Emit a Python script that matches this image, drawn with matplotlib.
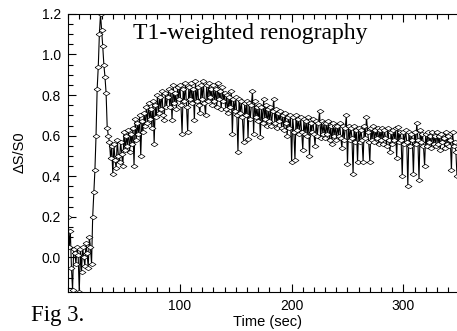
import numpy as np
import matplotlib
matplotlib.use("Agg")
import matplotlib.pyplot as plt
from matplotlib.ticker import MultipleLocator, FormatStrFormatter

# signal change dS/S0, one sample per second starting at t=0
ds_s0 = [
    0.20, 0.05, 0.13, -0.05, -0.16, 0.04, 0.02, -0.03, 0.05, 0.01,
    -0.17, 0.04, -0.07, 0.05, 0.00, -0.04, 0.07, 0.02, -0.05, 0.10,
    0.05, -0.03, 0.20, 0.32, 0.43, 0.60, 0.83, 0.94, 1.10, 1.20,
    1.12, 1.04, 0.95, 0.89, 0.81, 0.64, 0.60, 0.57, 0.49, 0.55,
    0.41, 0.56, 0.48, 0.44, 0.58, 0.50, 0.47, 0.57, 0.51, 0.45,
    0.62, 0.53, 0.60, 0.55, 0.63, 0.52, 0.61, 0.56, 0.64, 0.45,
    0.68, 0.58, 0.66, 0.61, 0.70, 0.50, 0.67, 0.62, 0.71, 0.65,
    0.74, 0.66, 0.76, 0.68, 0.73, 0.64, 0.77, 0.56, 0.75, 0.69,
    0.80, 0.71, 0.79, 0.73, 0.82, 0.70, 0.675, 0.81, 0.74, 0.79,
    0.83, 0.74, 0.82, 0.675, 0.85, 0.76, 0.81, 0.73, 0.84, 0.78,
    0.85, 0.75, 0.61, 0.83, 0.77, 0.86, 0.74, 0.62, 0.84, 0.78,
    0.86, 0.76, 0.83, 0.675, 0.87, 0.77, 0.84, 0.75, 0.71, 0.85,
    0.78, 0.87, 0.76, 0.70, 0.85, 0.77, 0.86, 0.79, 0.83, 0.75,
    0.85, 0.77, 0.83, 0.74, 0.86, 0.78, 0.82, 0.73, 0.84, 0.77,
    0.81, 0.73, 0.80, 0.71, 0.79, 0.74, 0.82, 0.61, 0.78, 0.72,
    0.79, 0.70, 0.52, 0.78, 0.71, 0.77, 0.69, 0.57, 0.76, 0.70,
    0.77, 0.585, 0.76, 0.68, 0.75, 0.82, 0.61, 0.77, 0.69, 0.74,
    0.67, 0.75, 0.595, 0.74, 0.66, 0.78, 0.68, 0.75, 0.65, 0.73,
    0.67, 0.74, 0.65, 0.72, 0.78, 0.66, 0.73, 0.64, 0.71, 0.67,
    0.72, 0.64, 0.70, 0.63, 0.71, 0.66, 0.60, 0.69, 0.64, 0.70,
    0.47, 0.69, 0.62, 0.48, 0.70, 0.63, 0.68, 0.61, 0.69, 0.62,
    0.53, 0.68, 0.61, 0.67, 0.60, 0.69, 0.50, 0.66, 0.62, 0.68,
    0.61, 0.55, 0.67, 0.60, 0.66, 0.72, 0.59, 0.67, 0.61, 0.66,
    0.59, 0.66, 0.61, 0.67, 0.58, 0.65, 0.56, 0.66, 0.60, 0.65,
    0.58, 0.65, 0.60, 0.66, 0.59, 0.54, 0.65, 0.58, 0.64, 0.70,
    0.46, 0.65, 0.58, 0.64, 0.59, 0.41, 0.65, 0.57, 0.63, 0.47,
    0.64, 0.57, 0.63, 0.58, 0.47, 0.65, 0.59, 0.69, 0.62, 0.57,
    0.47, 0.64, 0.58, 0.65, 0.57, 0.63, 0.59, 0.64, 0.56, 0.63,
    0.58, 0.64, 0.56, 0.63, 0.59, 0.55, 0.64, 0.58, 0.52, 0.62,
    0.56, 0.63, 0.58, 0.64, 0.49, 0.645, 0.57, 0.62, 0.58, 0.40,
    0.62, 0.56, 0.63, 0.57, 0.35, 0.62, 0.55, 0.61, 0.58, 0.41,
    0.62, 0.56, 0.66, 0.58, 0.38, 0.63, 0.57, 0.61, 0.55, 0.45,
    0.61, 0.55, 0.62, 0.57, 0.60, 0.54, 0.62, 0.56, 0.60, 0.55,
    0.62, 0.56, 0.60, 0.53, 0.61, 0.57, 0.59, 0.54, 0.62, 0.56,
    0.60, 0.55, 0.58, 0.43, 0.62, 0.55, 0.57, 0.52, 0.40,
]
time_sec = np.arange(len(ds_s0))  # 1 s sampling

title_txt = "T1-weighted renography"
fig_txt = "Fig 3."

sans = "Liberation Sans"
serif = "Liberation Serif"

fig = plt.figure(figsize=(4.57, 3.31), dpi=100)
ax = fig.add_axes([0.149, 0.118, 0.851, 0.840])

# flat open diamond
diamond = [(-1, 0), (0, 0.65), (1, 0), (0, -0.65), (-1, 0)]
ax.plot(time_sec, ds_s0, color="black", lw=0.8, marker=diamond, ms=5,
        mfc="white", mec="black", mew=0.5)

ax.set_xlim(0, 348)
ax.set_ylim(-0.17, 1.2)
ax.xaxis.set_major_locator(MultipleLocator(100))
ax.xaxis.set_minor_locator(MultipleLocator(10))
ax.yaxis.set_major_locator(MultipleLocator(0.2))
ax.yaxis.set_minor_locator(MultipleLocator(0.05))
ax.yaxis.set_major_formatter(FormatStrFormatter("%.1f"))

ax.tick_params(which="both", direction="in", top=True, right=False,
               labelsize=10, pad=5, width=0.8)
ax.tick_params(which="major", length=6)
ax.tick_params(which="minor", length=3.5)
for lab in ax.get_xticklabels() + ax.get_yticklabels():
    lab.set_family(sans)
ax.spines["right"].set_visible(False)
for s in ["left", "bottom", "top"]:
    ax.spines[s].set_linewidth(0.8)

ax.set_xticks([100, 200, 300])
ax.set_xticklabels(["100", "200", "300"], family=sans, fontsize=10)

fig.text(0.042, 0.54, "ΔS/S0", rotation=90, family=sans, fontsize=10.5,
         ha="center", va="center")
fig.text(0.585, 0.027, "Time (sec)", family=sans, fontsize=10.5,
         ha="center", va="center")
ax.text(0.167, 0.93, title_txt, transform=ax.transAxes, family=serif,
        fontsize=17, ha="left", va="center")
fig.text(0.068, 0.048, fig_txt, family=serif, fontsize=16.5,
         ha="left", va="center")

fig.savefig("out.png", dpi=100)
